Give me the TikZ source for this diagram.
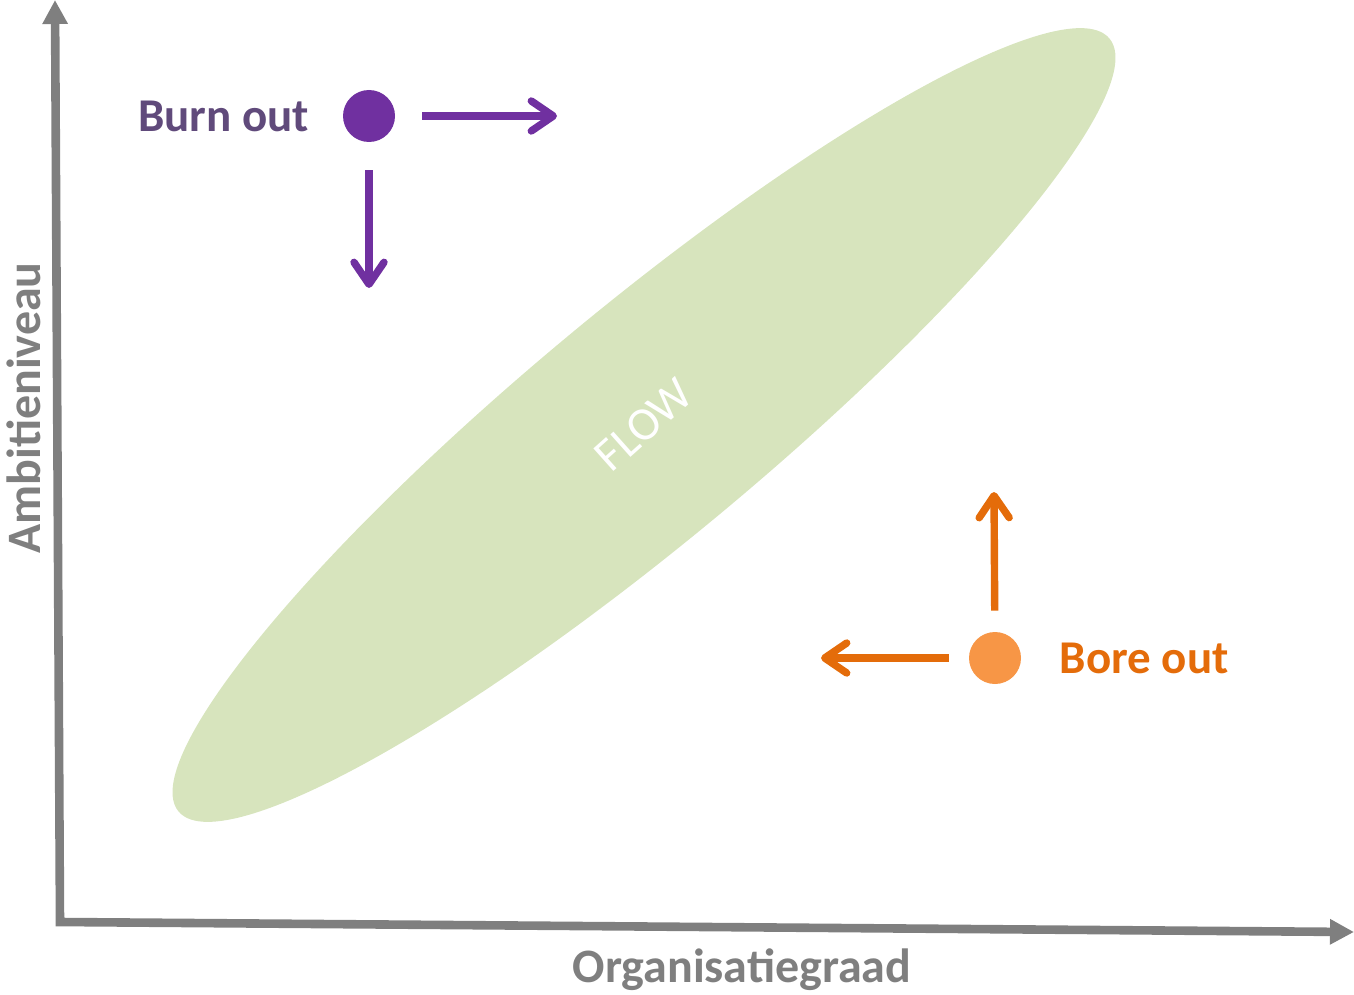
\documentclass[tikz,border=0pt]{standalone}
\usepackage{fontspec}
\setmainfont{Carlito}
\usepackage{xcolor}
\usepackage{tikz}
\usetikzlibrary{arrows.meta,calc,positioning}
\usetikzlibrary{shapes.geometric}
\definecolor{axisgray}{HTML}{7F7F7F}
\definecolor{flowgreen}{HTML}{D7E4BD}
\definecolor{burndot}{HTML}{7030A0}
\definecolor{burntext}{HTML}{604A7B}
\definecolor{boredot}{HTML}{F79646}
\definecolor{boreline}{HTML}{E46C0A}

\begin{document}
\begin{tikzpicture}[
    x=0.5pt, y=-0.5pt,
    axis/.style={draw=axisgray, line width=4.3pt, line join=miter},
    axislabel/.style={text=axisgray, font=\bfseries\fontsize{24}{26}\selectfont, inner sep=0},
    dot/.style={circle, inner sep=0, minimum size=26pt},
    statelabel/.style={font=\bfseries\fontsize{23.5}{26}\selectfont, inner sep=0},
    move/.style={line width=3.7pt, -{Straight Barb[length=11pt, width=15pt, round]}}]

\useasboundingbox (0,0) rectangle (1354,995);

\node (flow) [ellipse, fill=flowgreen, inner sep=0, minimum width=605pt, minimum height=117pt, rotate=39.7,
    text=white, font=\fontsize{23.5}{25}\selectfont] at (644,425) {\rotatebox{2}{FLOW}};

\coordinate (ytip) at (55,0);
\coordinate (origin) at (60,922);
\coordinate (xtip) at (1354,932);
\path[axis, {Triangle[length=12pt, width=12pt]}-{Triangle[length=12pt, width=12pt]}] (ytip) -- (origin) -- (xtip);

\node (xlabel) [axislabel] at (742,970) {Organisatiegraad};
\node (ylabel) [axislabel, rotate=90] at (24,408) {Ambitieniveau};

\node (burn) [dot, fill=burndot] at (369,116) {};
\node (burnlabel) [statelabel, text=burntext, left=16.5pt of burn] {Burn out};
\coordinate (burnright) at (557,116);
\coordinate (burndown) at (369,288);
\path[draw, move, draw=burndot, shorten <=13.5pt] (burn) -- (burnright);
\path[draw, move, draw=burndot, shorten <=14pt] (burn) -- (burndown);

\node (bore) [dot, fill=boredot] at (995,658) {};
\node (borelabel) [statelabel, text=boreline, right=19pt of bore] {Bore out};
\coordinate (boreup) at (994,492);
\coordinate (boreleft) at (821,658);
\path[draw, move, draw=boreline, shorten <=10.5pt] (bore) -- (boreup);
\path[draw, move, draw=boreline, shorten <=10pt] (bore) -- (boreleft);

\end{tikzpicture}
\end{document}
